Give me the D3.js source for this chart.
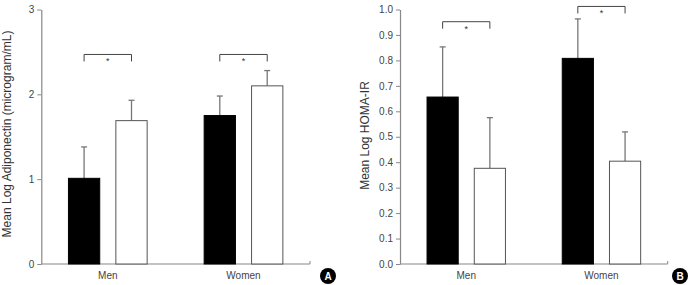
<html>
<head>
<script src="https://d3js.org/d3.v7.min.js"></script>
<style>
  body { margin: 0; background: white; }
  text { font-family: "Liberation Sans", Arial, sans-serif; fill: #333; }
  .axis path, .axis line { stroke: #888; }
  .axis text { font-size: 10px; fill: #444; }
</style>
</head>
<body>
<svg id="fig" width="694" height="285"></svg>
<script>
// data
const groups = ["Men", "Women"];
const series = ["black", "white"];
const adipoMean = [[1.01, 1.69], [1.75, 2.10]];
const adipoErr  = [[1.38, 1.93], [1.98, 2.28]];
const adipoSig  = [2.47, 2.47];
const adipoTicks = [0, 1, 2, 3];
const homaMean = [[0.656, 0.376], [0.808, 0.404]];
const homaErr  = [[0.853, 0.575], [0.963, 0.519]];
const homaSig  = [0.952, 1.012];
const homaTicks = [0, 0.1, 0.2, 0.3, 0.4, 0.5, 0.6, 0.7, 0.8, 0.9, 1.0];

const svg = d3.select("#fig");

function panel(opt) {
  const g = svg.append("g");
  const x = d3.scaleBand().domain(groups).range([opt.left, opt.right])
    .paddingInner(0.42).paddingOuter(0.2);
  const xs = d3.scaleBand().domain(series).range([0, x.bandwidth()]).paddingInner(0.34);
  const y = d3.scaleLinear().domain(opt.domain).range([264, 9.5]);

  // y axis
  const ya = g.append("g").attr("class", "axis")
    .attr("transform", "translate(" + opt.left + ",0)")
    .call(d3.axisLeft(y).tickValues(opt.ticks).tickFormat(d3.format(opt.fmt)).tickSize(4).tickSizeOuter(0).tickPadding(3));
  ya.select(".domain").attr("stroke-width", 1.2);

  // x axis line
  g.append("line").attr("x1", opt.left).attr("x2", opt.right)
    .attr("y1", y(0)).attr("y2", y(0)).attr("stroke", "#888").attr("stroke-width", 1.2);
  g.append("line").attr("x1", opt.right).attr("x2", opt.right)
    .attr("y1", y(0)).attr("y2", y(0) - 3).attr("stroke", "#888");

  groups.forEach((grp, i) => {
    series.forEach((s, j) => {
      const bx = x(grp) + xs(s);
      const cx = bx + xs.bandwidth() / 2;
      // error bar
      g.append("line").attr("x1", cx).attr("x2", cx)
        .attr("y1", y(opt.mean[i][j])).attr("y2", y(opt.err[i][j]))
        .attr("stroke", "#777").attr("stroke-width", 1.3);
      g.append("line").attr("x1", cx - 3).attr("x2", cx + 3)
        .attr("y1", y(opt.err[i][j])).attr("y2", y(opt.err[i][j]))
        .attr("stroke", "#777").attr("stroke-width", 1.3);
      g.append("rect").attr("x", bx).attr("y", y(opt.mean[i][j]))
        .attr("width", xs.bandwidth()).attr("height", y(0) - y(opt.mean[i][j]))
        .attr("fill", s === "black" ? "#000" : "#fff")
        .attr("stroke", s === "black" ? "#000" : "#555").attr("stroke-width", 1);
    });
    // significance bracket
    const c0 = x(grp) + xs("black") + xs.bandwidth() / 2;
    const c1 = x(grp) + xs("white") + xs.bandwidth() / 2;
    const by = y(opt.sig[i]);
    g.append("path")
      .attr("d", "M" + c0 + "," + (by + 7) + "V" + by + "H" + c1 + "V" + (by + 7))
      .attr("fill", "none").attr("stroke", "#444").attr("stroke-width", 1);
    g.append("text").attr("x", (c0 + c1) / 2).attr("y", by + 10)
      .attr("text-anchor", "middle").style("font-size", "9px").text("*");
    // group label
    g.append("text").attr("x", x(grp) + x.bandwidth() / 2).attr("y", 279)
      .attr("text-anchor", "middle").style("font-size", "10px").style("fill", "#444").text(grp);
  });

  // y label
  g.append("text")
    .attr("transform", "translate(" + opt.labelX + "," + opt.labelY + ") rotate(-90)")
    .attr("text-anchor", "middle").attr("dy", "0.35em")
    .style("font-size", "12px").text(opt.label);

  // panel badge
  g.append("circle").attr("cx", opt.badgeX).attr("cy", 276).attr("r", 8).attr("fill", "#000");
  g.append("text").attr("x", opt.badgeX).attr("y", 276).attr("dy", "0.36em")
    .attr("text-anchor", "middle").style("font-size", "10px").style("font-weight", "bold")
    .style("fill", "#fff").text(opt.badge);
}

panel({ left: 41.3, right: 310, domain: [0, 3], ticks: adipoTicks, fmt: "d",
  mean: adipoMean, err: adipoErr, sig: adipoSig,
  label: "Mean Log Adiponectin (microgram/mL)", labelX: 7, labelY: 134,
  badge: "A", badgeX: 328 });
panel({ left: 400, right: 667.7, domain: [0, 1], ticks: homaTicks, fmt: ".1f",
  mean: homaMean, err: homaErr, sig: homaSig,
  label: "Mean Log HOMA-IR", labelX: 365, labelY: 135.5,
  badge: "B", badgeX: 680 });
</script>
</body>
</html>
